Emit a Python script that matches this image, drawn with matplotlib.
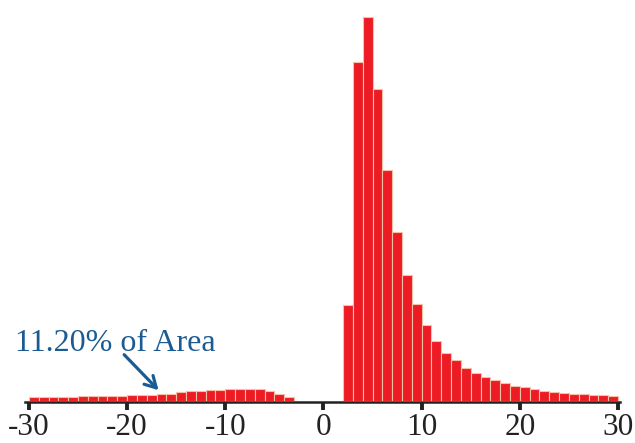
import matplotlib.pyplot as plt
import numpy as np

# bin edges (unit width) and bar heights
left_edges = np.arange(-30, -3)
left_heights = [3.3, 3.3, 3.3, 3.3, 3.3, 4.3, 4.3, 4.3, 4.3, 4.3,
                6.0, 6.0, 6.0, 7.0, 7.0, 8.3, 9.3, 9.3, 10.3, 11.0,
                12.0, 12.0, 12.0, 11.7, 9.3, 6.7, 3.7]
right_edges = np.arange(2, 30)
right_heights = [96, 339, 384, 312, 231, 169, 126, 97, 76, 60,
                 48, 41, 33, 28, 24, 21, 18, 15, 14, 12,
                 10, 9, 8, 7, 7, 6, 6, 5]
tick_vals = [-30, -20, -10, 0, 10, 20, 30]
note = '11.20% of Area'

edges = np.concatenate([left_edges, right_edges])
heights = left_heights + right_heights

plt.rcParams['font.family'] = ['Liberation Serif', 'DejaVu Serif']

fig = plt.figure(figsize=(6.35, 4.43), dpi=100)
ax = fig.add_axes([25 / 635, 42.3 / 443, 595 / 635, 400.7 / 443])

ax.bar(edges, heights, width=1, align='edge', color='#ed1c24',
       edgecolor='#f6bfa8', linewidth=0.8)

ax.set_xlim(-30.4, 30.2)
ax.set_ylim(0, 400.7)
for s in ['left', 'right', 'top']:
    ax.spines[s].set_visible(False)
ax.spines['bottom'].set_position(('outward', 1.2))
ax.spines['bottom'].set_linewidth(1.8)
ax.spines['bottom'].set_color('#222222')
ax.set_yticks([])
ax.set_xticks(tick_vals)
ax.set_xticklabels([str(v) for v in tick_vals])
ax.tick_params(axis='x', direction='out', length=6, width=2.8, color='#222222',
               labelsize=22.5, labelcolor='#222222', pad=2)

blue = '#1b5b94'
ax.text(-31.4, 49.5, note, color=blue, fontsize=23, ha='left', va='baseline',
        clip_on=False)
ax.annotate('', xy=(-16.8, 10.5), xytext=(-20.3, 46),
            arrowprops=dict(arrowstyle='->,head_length=0.8,head_width=0.45',
                            color=blue, lw=2.3, shrinkA=0, shrinkB=0),
            annotation_clip=False)

fig.savefig('out.png', dpi=100)
